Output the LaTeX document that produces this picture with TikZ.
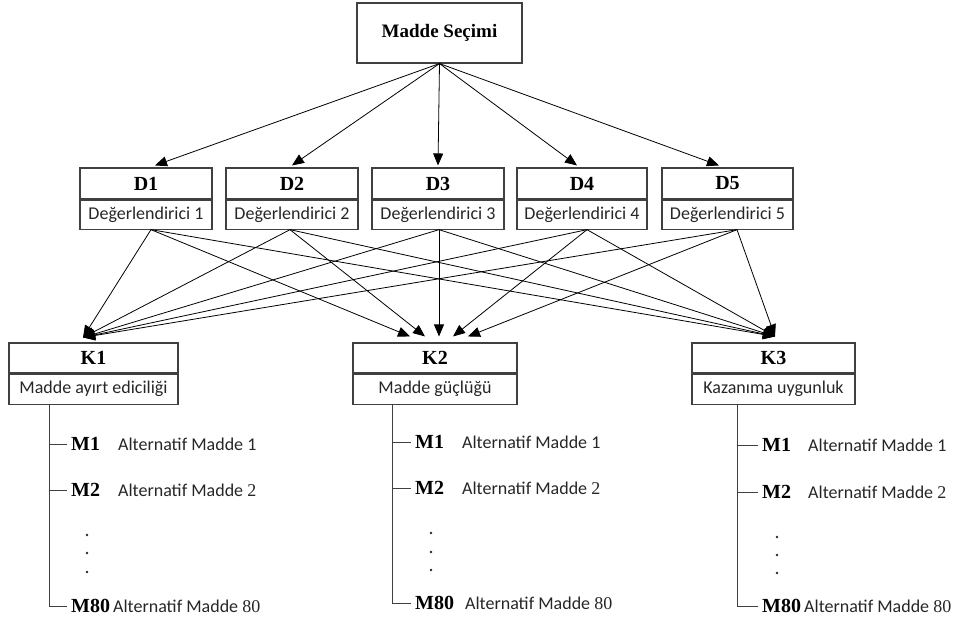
\documentclass[tikz,border=0pt]{standalone}
\usepackage{fontspec}
\setmainfont{Liberation Serif}
\newfontfamily\calfont{Carlito}
\usetikzlibrary{arrows.meta,calc}
\definecolor{boxc}{HTML}{404040}
\definecolor{txtc}{HTML}{262626}
\tikzset{
 box/.style={draw=boxc, line width=1.1pt, inner sep=0pt, minimum width=132pt},
 head/.style={box, minimum height=31pt, font=\bfseries\fontsize{20}{20}\selectfont},
 desc/.style={box, minimum height=29pt, font=\calfont\fontsize{18}{18}\selectfont, text=txtc},
 arr/.style={-{Triangle[length=12pt,width=10pt]}, line width=0.8pt},
 mlab/.style={anchor=west, inner xsep=4pt, inner ysep=0pt, text height=13pt, text depth=0pt, font=\bfseries\fontsize{20}{20}\selectfont},
 alt/.style={anchor=base west, inner sep=0pt, font=\calfont\fontsize{18}{18}\selectfont, text=txtc},
 tree/.style={line width=1pt, draw=boxc},
 dotm/.style={fill=txtc}
}
\begin{document}
\begin{tikzpicture}[x=1pt,y=-1pt]
\useasboundingbox (0,0) rectangle (970,619);
% top
\node[box, minimum width=165pt, minimum height=60pt, font=\bfseries\fontsize{19}{19}\selectfont] (MS) at (439.5,33) {Madde Seçimi};
% D boxes
\node[head] (Dt1) at (146,183.5) {D1};
\node[desc, anchor=north] (Dd1) at (Dt1.south) {Değerlendirici 1};
\node[head] (Dt2) at (292,183.5) {D2};
\node[desc, anchor=north] (Dd2) at (Dt2.south) {Değerlendirici 2};
\node[head] (Dt3) at (438,183.5) {D3};
\node[desc, anchor=north] (Dd3) at (Dt3.south) {Değerlendirici 3};
\node[head, minimum width=130pt] (Dt4) at (582,183.5) {D4};
\node[desc, minimum width=130pt, anchor=north] (Dd4) at (Dt4.south) {Değerlendirici 4};
\node[head, minimum width=131pt] (Dt5) at (727.5,183.5) {D5};
\node[desc, minimum width=131pt, anchor=north] (Dd5) at (Dt5.south) {Değerlendirici 5};
% K boxes
\node[head, minimum width=169pt, minimum height=30pt] (Kt1) at (93.5,358) {K1};
\node[desc, minimum width=169pt, minimum height=30pt, anchor=north] (Kd1) at (Kt1.south) {Madde ayırt ediciliği};
\node[head, minimum width=164pt, minimum height=30pt] (Kt2) at (435,358) {K2};
\node[desc, minimum width=164pt, minimum height=30pt, anchor=north] (Kd2) at (Kt2.south) {Madde güçlüğü};
\node[head, minimum width=163pt, minimum height=30pt] (Kt3) at (773.5,358) {K3};
\node[desc, minimum width=163pt, minimum height=30pt, anchor=north] (Kd3) at (Kt3.south) {Kazanıma uygunluk};
% top arrows
\foreach \n/\dx in {1/9,2/0,3/0,4/-5,5/-8.5}
  \draw[arr] (MS.south) -- ($(Dt\n.north)+(\dx,-2)$);
% D -> K arrows
\foreach \n/\sx/\kx in {1/5/-25, 2/-2/-10, 3/1/4, 4/5/18, 5/9.5/33} {
  \coordinate (s\n) at ($(Dd\n.south)+(\sx,0)$);
  \draw[arr] (s\n) -- ($(Kt1.north)+(-10.5,-5)$);
  \draw[arr] (s\n) -- ($(Kt2.north)+(\kx,-6)$);
  \draw[arr] (s\n) -- ($(Kt3.north)+(1.5,-6)$);
}
% tree K1
\coordinate (r1) at ($(Kd1.south west)+(41,0)$);
\node[mlab] (m11) at (67,444) {M1};
\node[mlab] (m12) at (67,490) {M2};
\node[mlab] (m180) at (67,606) {M80};
\draw[tree] (r1) |- (m180.west);
\draw[tree] (r1 |- m11.west) -- (m11.west);
\draw[tree] (r1 |- m12.west) -- (m12.west);
\node[alt] (a11) at ($(m11.base west)+(51,0)$) {Alternatif Madde 1};
\node[alt] (a12) at ($(m12.base west)+(51,0)$) {Alternatif Madde {\rmfamily 2}};
\node[alt] (a180) at ($(m180.base west)+(46,0)$) {Alternatif Madde {\rmfamily 80}};
\fill[dotm] (87,535) circle (1.3pt) (87,553) circle (1.3pt) (87,572) circle (1.3pt);
% tree K2
\coordinate (r2) at ($(Kd2.south west)+(40,0)$);
\node[mlab] (m21) at (411,442) {M1};
\node[mlab] (m22) at (411,488) {M2};
\node[mlab] (m280) at (411,603) {M80};
\draw[tree] (r2) |- (m280.west);
\draw[tree] (r2 |- m21.west) -- (m21.west);
\draw[tree] (r2 |- m22.west) -- (m22.west);
\node[alt] (a21) at ($(m21.base west)+(51,0)$) {Alternatif Madde 1};
\node[alt] (a22) at ($(m22.base west)+(51,0)$) {Alternatif Madde {\rmfamily 2}};
\node[alt] (a280) at ($(m280.base west)+(54,0)$) {Alternatif Madde {\rmfamily 80}};
\fill[dotm] (431,533) circle (1.3pt) (431,552) circle (1.3pt) (431,570) circle (1.3pt);
% tree K3
\coordinate (r3) at ($(Kd3.south west)+(46,0)$);
\node[mlab] (m31) at (758,445) {M1};
\node[mlab] (m32) at (758,492) {M2};
\node[mlab] (m380) at (758,606) {M80};
\draw[tree] (r3) |- (m380.west);
\draw[tree] (r3 |- m31.west) -- (m31.west);
\draw[tree] (r3 |- m32.west) -- (m32.west);
\node[alt] (a31) at ($(m31.base west)+(50,0)$) {Alternatif Madde 1};
\node[alt] (a32) at ($(m32.base west)+(50,0)$) {Alternatif Madde {\rmfamily 2}};
\node[alt] (a380) at ($(m380.base west)+(46,0)$) {Alternatif Madde {\rmfamily 80}};
\fill[dotm] (777,537) circle (1.3pt) (777,555) circle (1.3pt) (777,573) circle (1.3pt);
\end{tikzpicture}
\end{document}
